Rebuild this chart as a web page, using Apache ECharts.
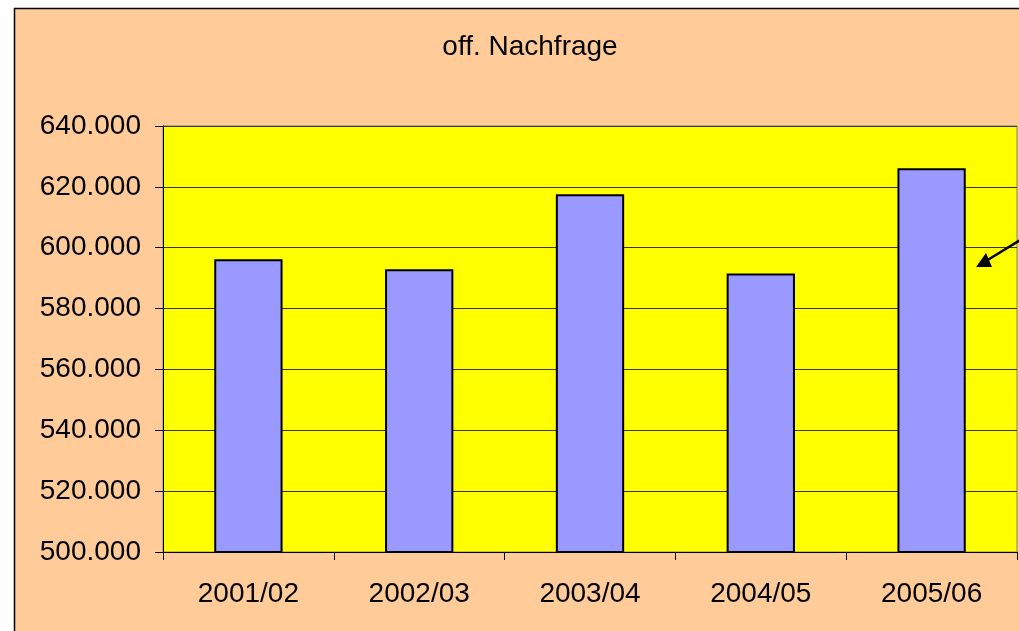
<!DOCTYPE html>
<html>
<head>
<meta charset="utf-8">
<script src="https://cdn.jsdelivr.net/npm/echarts@6/dist/echarts.min.js"></script>
<style>
html,body{margin:0;padding:0;background:#ffffff;}
#chart{width:1019px;height:631px;}
</style>
</head>
<body>
<div id="chart"></div>
<script>
const categories = ['2001/02', '2002/03', '2003/04', '2004/05', '2005/06'];
const values = [596200, 592900, 617600, 591500, 626100];
const yMin = 500000, yMax = 640000, yStep = 20000;
const titleText = 'off. Nachfrage';

function fmt(v) {
  return String(Math.round(v)).replace(/\B(?=(\d{3})+(?!\d))/g, '.');
}

const chart = echarts.init(document.getElementById('chart'), null, {renderer: 'canvas'});
const font = '"Liberation Sans", Arial, sans-serif';
chart.setOption({
  backgroundColor: '#ffffff',
  animation: false,
  title: {
    text: titleText,
    left: 525, top: 28, textAlign: 'center',
    textStyle: {fontFamily: font, fontSize: 28, fontWeight: 'normal', color: '#000'}
  },
  graphic: [
    {type: 'rect', z: -10, shape: {x: 14.5, y: 8.5, width: 1100, height: 700},
     style: {fill: '#FFCC99', stroke: '#000', lineWidth: 1.5}},
    {type: 'line', z: 100, shape: {x1: 1025, y1: 237, x2: 986, y2: 261},
     style: {stroke: '#000', lineWidth: 2.5}},
    {type: 'polygon', z: 100, shape: {points: [[976, 267], [986, 253], [992, 267]]},
     style: {fill: '#000'}}
  ],
  grid: {
    left: 163, top: 126, right: 2, bottom: 79,
    show: true, backgroundColor: '#FFFF00', borderColor: '#808080', borderWidth: 1,
    containLabel: false
  },
  xAxis: {
    type: 'category', data: categories,
    axisLine: {show: true, lineStyle: {color: '#000', width: 1}},
    axisTick: {show: true, length: 8, alignWithLabel: false, lineStyle: {color: '#000'}},
    axisLabel: {margin: 28, fontFamily: font, fontSize: 28, color: '#000'},
    splitLine: {show: false}
  },
  yAxis: {
    type: 'value', min: yMin, max: yMax, interval: yStep,
    axisLine: {show: true, lineStyle: {color: '#000', width: 1}},
    axisTick: {show: true, length: 8, lineStyle: {color: '#000'}},
    axisLabel: {margin: 22, fontFamily: font, fontSize: 28, color: '#000', formatter: fmt},
    splitLine: {show: true, lineStyle: {color: '#333', width: 1}}
  },
  series: [{
    type: 'bar', data: values, barWidth: '40%',
    itemStyle: {color: '#9999FF', borderColor: '#000', borderWidth: 2}
  }]
});
</script>
</body>
</html>
